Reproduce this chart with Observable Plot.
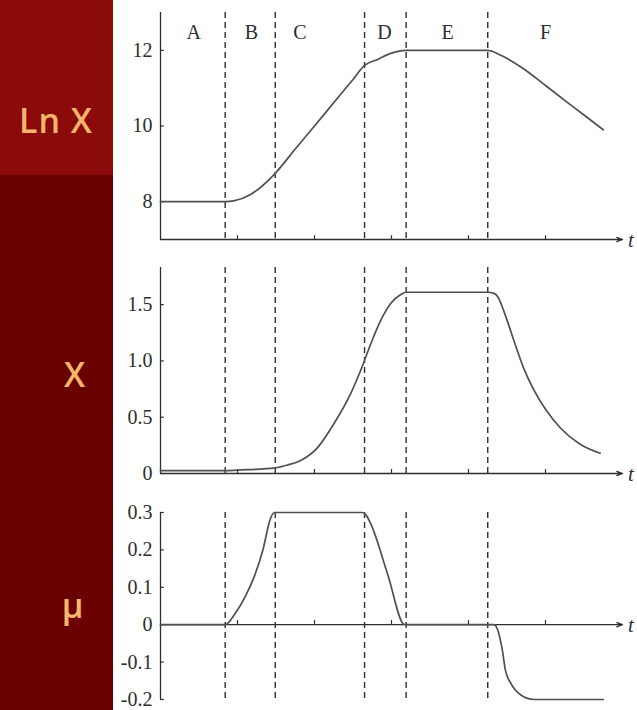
<!DOCTYPE html>
<html>
<head>
<meta charset="utf-8">
<script src="https://cdn.jsdelivr.net/npm/d3@7"></script>
<script src="https://cdn.jsdelivr.net/npm/@observablehq/plot@0.6"></script>
<style>
  html, body { margin: 0; padding: 0; background: #fff; }
  #wrap { position: relative; width: 637px; height: 710px; overflow: hidden; background: #fff; }
  #red { position: absolute; left: 0; top: 0; width: 113px; height: 710px; background: #6a0101; }
  #redTop { position: absolute; left: 0; top: 0; width: 113px; height: 175px; background: #8a0b09; }
  .lbl { position: absolute; font-family: "Open Sans", "DejaVu Sans", sans-serif; font-weight: 600; font-size: 34px; letter-spacing: 1px; color: #f6b66c; transform: translate(-50%, -50%); white-space: nowrap; }
  #charts { position: absolute; left: 112px; top: 0; }
  #charts svg { display: block; }
  #charts svg text { font-family: "Liberation Serif", "DejaVu Serif", serif !important; }
</style>
</head>
<body>
<div id="wrap">
  <div id="red"><div id="redTop"></div></div>
  <div class="lbl" style="left:56px; top:120px;">Ln X</div>
  <div class="lbl" style="left:75px; top:374px;">X</div>
  <div class="lbl" style="left:73px; top:605px;">μ</div>
  <div id="charts"></div>
</div>
<script>
// ---- data ----
const phaseBounds = [0.84, 1.49, 2.65, 3.19, 4.25];
const phaseNames = ["A", "B", "C", "D", "E", "F"];
const phaseLabelT = [0.43, 1.18, 1.81, 2.91, 3.73, 5.0];
const xTicks = [1, 2, 3, 4, 5];

const lnXT = [0, 0.84, 0.95, 1.17, 1.49, 1.75, 2.0, 2.3, 2.5, 2.65, 2.82, 2.99, 3.19, 4.25, 4.42, 4.71, 5.0, 5.3, 5.5, 5.75];
const lnXV = [8, 8, 8.02, 8.19, 8.75, 9.39, 10.0, 10.74, 11.23, 11.6, 11.76, 11.92, 12, 12, 11.87, 11.52, 11.07, 10.6, 10.29, 9.9];
const lnXTicks = [8, 10, 12];

const xT = [0, 0.84, 1.0, 1.49, 1.65, 1.82, 2.04, 2.25, 2.47, 2.62, 2.73, 2.86, 2.99, 3.12, 3.19, 4.25, 4.33, 4.38, 4.46, 4.59, 4.72, 4.85, 5.0, 5.2, 5.45, 5.71];
const xV = [0.025, 0.025, 0.03, 0.05, 0.075, 0.115, 0.23, 0.44, 0.71, 0.95, 1.15, 1.36, 1.51, 1.59, 1.61, 1.61, 1.60, 1.57, 1.44, 1.18, 0.93, 0.74, 0.57, 0.40, 0.26, 0.18];
const xTicksY = [0, 0.5, 1.0, 1.5];

const muT = [0, 0.84, 0.97, 1.10, 1.22, 1.33, 1.43, 1.48, 2.62, 2.67, 2.73, 2.95, 3.17, 4.33, 4.39, 4.44, 4.48, 4.55, 4.68, 4.85, 5.75];
const muV = [0, 0, 0.03, 0.075, 0.13, 0.2, 0.285, 0.3, 0.3, 0.293, 0.27, 0.135, 0, 0, -0.021, -0.069, -0.122, -0.157, -0.188, -0.2, -0.2];
const muTicks = [-0.2, -0.1, 0, 0.1, 0.2, 0.3];

// ---- drawing ----
const W = 525, ML = 48, MR = 15;
const serif = "'Liberation Serif', 'DejaVu Serif', serif";
const ink = "#2e2e2e";

function panel({T, V, height, mt, mb, domain, yTicks, fmt, base, tickLen, xTickLen, names}) {
  const data = T.map((t, i) => ({t, v: V[i]}));
  const marks = [
    Plot.ruleX(phaseBounds, {x: d => d, stroke: ink, strokeWidth: 1.4, strokeDasharray: "6,4"}),
    Plot.ruleX([0], {x: d => d, y1: domain[0], y2: domain[1], stroke: ink, strokeWidth: 1.3}),
    Plot.ruleY(yTicks, {y: d => d, x1: 0, x2: tickLen, stroke: ink, strokeWidth: 1.2}),
    Plot.axisY({ticks: yTicks, tickSize: 0, tickPadding: 8, tickFormat: fmt, label: null, fontSize: 20, fill: ink}),
    Plot.arrow([0], {x1: 0, x2: 6.0, y1: base, y2: base, stroke: ink, strokeWidth: 1.3, headLength: 7, headAngle: 40}),
    Plot.ruleX(xTicks, {x: d => d, y1: base, y2: base + xTickLen, stroke: ink, strokeWidth: 1.2}),
    Plot.text(["t"], {x: 6.11, y: base, text: d => d, fontStyle: "italic", fontSize: 21, fill: ink, dy: 1}),
    Plot.line(data, {x: "t", y: "v", curve: "monotone-x", stroke: "#505050", strokeWidth: 1.7})
  ];
  if (names) {
    marks.push(Plot.text(phaseNames, {x: (d, i) => phaseLabelT[i], y: names, text: d => d, fontSize: 20, fill: ink}));
  }
  return Plot.plot({
    width: W, height, marginLeft: ML, marginRight: MR, marginTop: mt, marginBottom: mb,
    x: {domain: [0, 6], axis: null},
    y: {domain, axis: null},
    style: {fontFamily: serif, color: ink, background: "transparent", overflow: "visible"},
    marks
  });
}

const charts = document.getElementById("charts");
charts.append(panel({T: lnXT, V: lnXV, height: 250, mt: 12, mb: 11, domain: [7, 13], yTicks: lnXTicks, fmt: d => String(d), base: 7, tickLen: 0.05, xTickLen: 0.1, names: 12.48}));
charts.append(panel({T: xT, V: xV, height: 240, mt: 17, mb: 17, domain: [0, 1.83], yTicks: xTicksY, fmt: d => d === 0 ? "0" : d.toFixed(1), base: 0, tickLen: 0.05, xTickLen: 0.035}));
charts.append(panel({T: muT, V: muV, height: 220, mt: 22, mb: 11, domain: [-0.2, 0.3], yTicks: muTicks, fmt: d => d === 0 ? "0" : d.toFixed(1).replace("−", "-"), base: 0, tickLen: 0.05, xTickLen: 0.011}));
</script>
</body>
</html>
